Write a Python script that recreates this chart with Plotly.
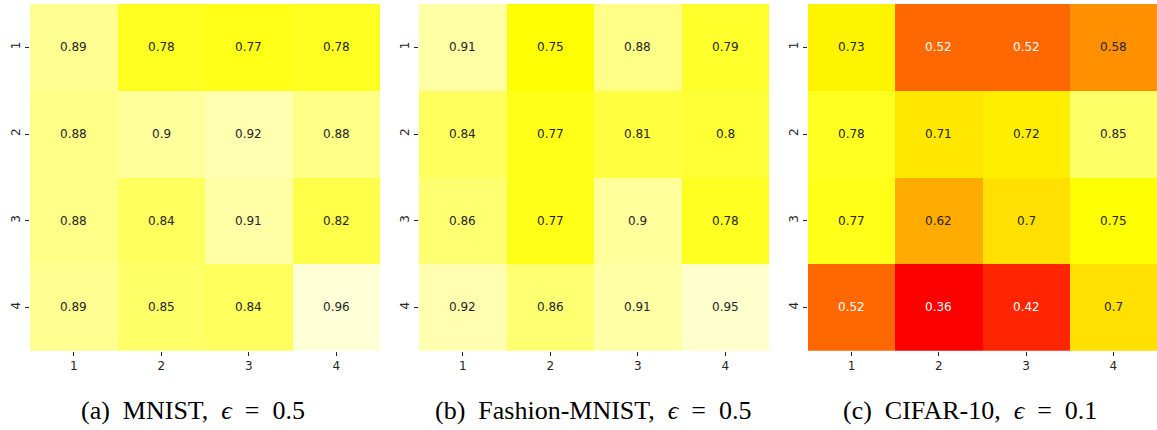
import plotly.graph_objects as go

labels = ["1", "2", "3", "4"]

mnist = [[0.89, 0.78, 0.77, 0.78],
         [0.88, 0.90, 0.92, 0.88],
         [0.88, 0.84, 0.91, 0.82],
         [0.89, 0.85, 0.84, 0.96]]
fashion = [[0.91, 0.75, 0.88, 0.79],
           [0.84, 0.77, 0.81, 0.80],
           [0.86, 0.77, 0.90, 0.78],
           [0.92, 0.86, 0.91, 0.95]]
cifar = [[0.73, 0.52, 0.52, 0.58],
         [0.78, 0.71, 0.72, 0.85],
         [0.77, 0.62, 0.70, 0.75],
         [0.52, 0.36, 0.42, 0.70]]
titles = ["(a)\u2002MNIST,\u2002<i>ϵ</i>\u2002=\u20020.5",
          "(b)\u2002Fashion-MNIST,\u2002<i>ϵ</i>\u2002=\u20020.5",
          "(c)\u2002CIFAR-10,\u2002<i>ϵ</i>\u2002=\u20020.1"]

# matplotlib "hot" colormap
hot = [[0.0, "rgb(11,0,0)"], [0.365079, "rgb(255,0,0)"],
       [0.746032, "rgb(255,255,0)"], [1.0, "rgb(255,255,255)"]]


def hot_rgb(v):
    r = min(1.0, 0.0416 + (1 - 0.0416) * v / 0.365079) if v < 0.365079 else 1.0
    g = 0.0 if v < 0.365079 else min(1.0, (v - 0.365079) / (0.746032 - 0.365079))
    b = 0.0 if v < 0.746032 else (v - 0.746032) / (1 - 0.746032)
    return r, g, b


def lum(rgb):
    def lin(c):
        return c / 12.92 if c <= 0.03928 else ((c + 0.055) / 1.055) ** 2.4
    r, g, b = (lin(c) for c in rgb)
    return 0.2126 * r + 0.7152 * g + 0.0722 * b


W, H = 1157, 430
xdoms = [(30 / W, 380 / W), (419 / W, 769 / W), (808 / W, 1.0)]
title_cx = [193, 593, 970]
ydom = (1 - 350.7 / H, 1 - 4 / H)
idx = list(range(len(labels)))

fig = go.Figure()
annotations = []
for i, (data, title) in enumerate(zip([mnist, fashion, cifar], titles)):
    xa = "x" if i == 0 else f"x{i+1}"
    ya = "y" if i == 0 else f"y{i+1}"
    fig.add_trace(go.Heatmap(z=data, x=idx, y=idx, colorscale=hot,
                             zmin=0, zmax=1, showscale=False, xaxis=xa, yaxis=ya,
                             hoverinfo="skip"))
    for r, row in enumerate(data):
        for c, v in enumerate(row):
            col = "#262626" if lum(hot_rgb(v)) > 0.408 else "white"
            annotations.append(dict(x=idx[c], y=idx[r], xref=xa, yref=ya,
                                    text=f"{v:.2g}", showarrow=False,
                                    font=dict(size=12, color=col, family="DejaVu Sans")))
    annotations.append(dict(x=title_cx[i] / W, y=1 - 410 / H,
                            xref="paper", yref="paper", text=title, showarrow=False,
                            font=dict(size=26, color="black", family="Liberation Serif"),
                            xanchor="center", yanchor="middle"))
    axkw = dict(showgrid=False, zeroline=False, showline=False, ticks="outside",
                ticklen=4, tickwidth=1, tickcolor="#262626",
                tickmode="array", tickvals=idx, ticktext=labels,
                tickfont=dict(size=12, color="#262626", family="DejaVu Sans"))
    fig.layout[("xaxis" if i == 0 else f"xaxis{i+1}")] = dict(
        domain=list(xdoms[i]), anchor=ya, range=[-0.5, 3.5], **axkw)
    fig.layout[("yaxis" if i == 0 else f"yaxis{i+1}")] = dict(
        domain=list(ydom), anchor=xa, range=[3.5, -0.5], tickangle=-90, **axkw)

fig.update_layout(width=W, height=H, margin=dict(l=0, r=0, t=0, b=0),
                  paper_bgcolor="white", plot_bgcolor="white", annotations=annotations)
fig.write_html("out.html", config={"displayModeBar": False},
               post_script="document.body.style.margin='0';document.body.style.overflow='hidden';")
